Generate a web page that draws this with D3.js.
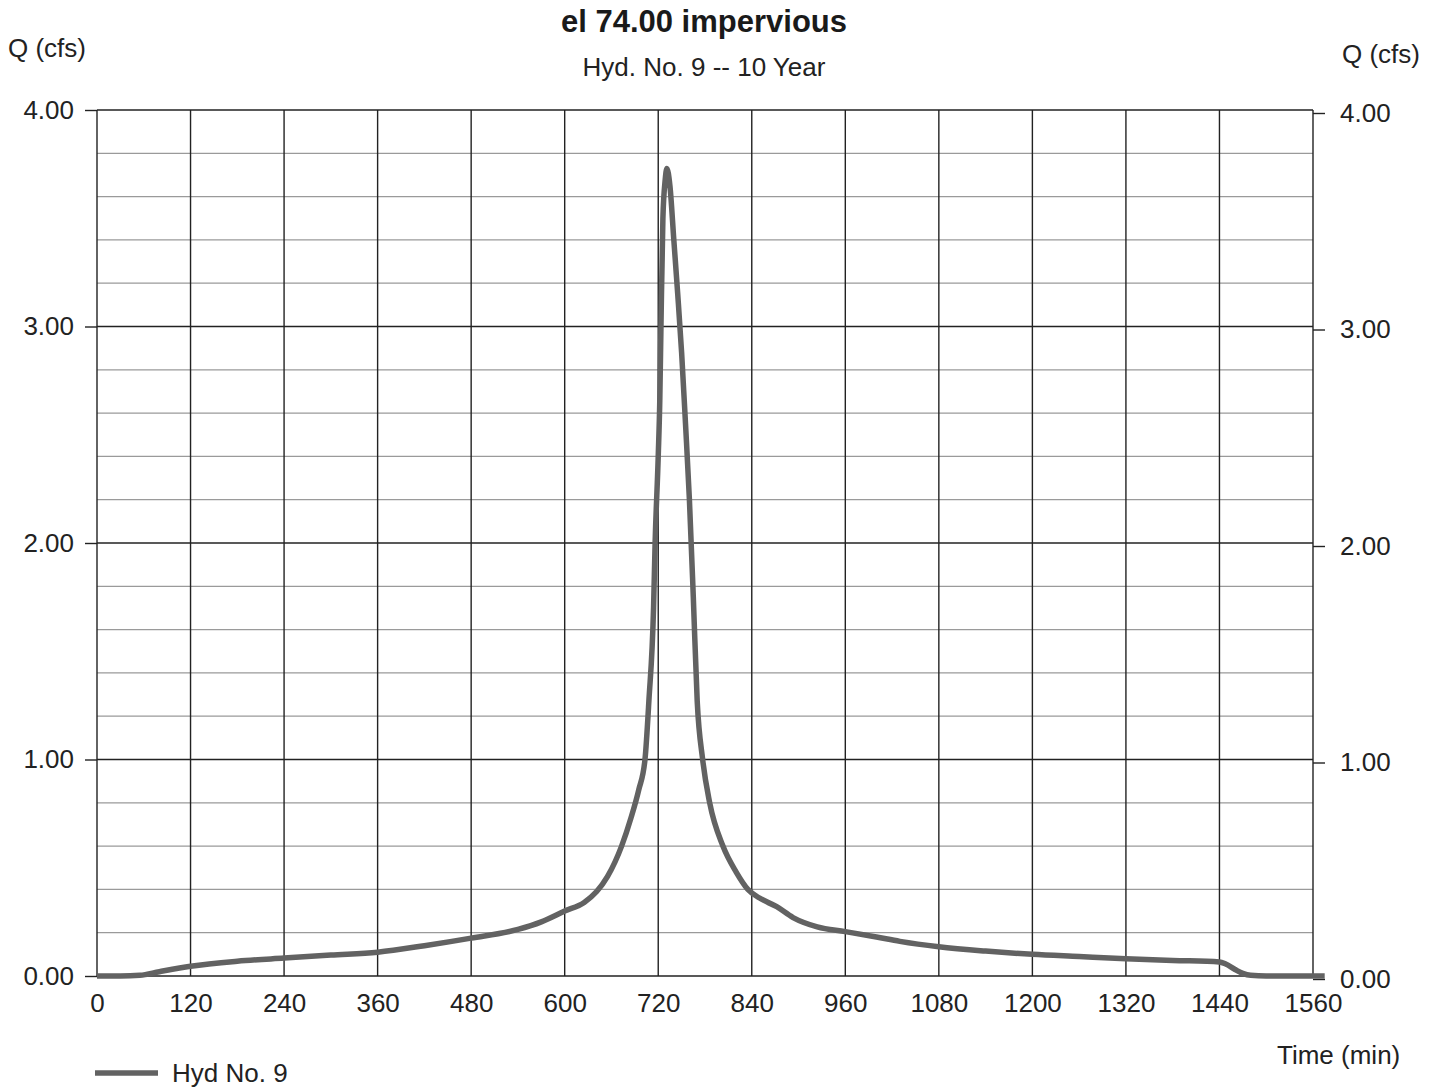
<!DOCTYPE html>
<html>
<head>
<meta charset="utf-8">
<script src="https://cdn.jsdelivr.net/npm/d3@7"></script>
<style>
  body { margin: 0; background: #fff; }
  svg { display: block; font-family: "Liberation Sans", Arial, sans-serif; }
</style>
</head>
<body>
<div id="chart"></div>
<script>
// hydrograph: time (min) and flow Q (cfs)
var times = [0, 30, 55, 80, 120, 180, 240, 300, 360, 420, 480, 540, 570, 600, 625, 641, 655, 673, 685, 695, 703, 708, 714, 716, 720, 722, 723.5, 726, 729, 731, 735, 740, 745, 750, 755, 760, 765, 770, 777, 786, 803, 820, 835, 850, 872, 893, 924, 960, 1000, 1030, 1080, 1140, 1200, 1260, 1320, 1380, 1440, 1448, 1460, 1470, 1480, 1500, 1560, 1575];
var flows = [0, 0, 0.003, 0.02, 0.045, 0.068, 0.083, 0.097, 0.11, 0.14, 0.175, 0.215, 0.25, 0.30, 0.34, 0.39, 0.46, 0.60, 0.73, 0.86, 1.0, 1.27, 1.7, 2.0, 2.4, 2.66, 3.0, 3.5, 3.68, 3.73, 3.65, 3.4, 3.15, 2.88, 2.55, 2.2, 1.75, 1.27, 1.0, 0.8, 0.6, 0.48, 0.40, 0.36, 0.32, 0.27, 0.227, 0.205, 0.18, 0.16, 0.135, 0.115, 0.10, 0.09, 0.08, 0.072, 0.065, 0.055, 0.03, 0.012, 0.003, 0, 0, 0];
var xTicks = [0, 120, 240, 360, 480, 600, 720, 840, 960, 1080, 1200, 1320, 1440, 1560];
var yTicks = [0, 1, 2, 3, 4];
var yMinor = [0.2, 0.4, 0.6, 0.8, 1.2, 1.4, 1.6, 1.8, 2.2, 2.4, 2.6, 2.8, 3.2, 3.4, 3.6, 3.8];

var width = 1440, height = 1087;
var plotL = 97, plotR = 1313, plotT = 110, plotB = 976;
var labelFont = "Liberation Sans, Arial, sans-serif";

var svg = d3.select("#chart").append("svg")
  .attr("width", width)
  .attr("height", height);

var x = d3.scaleLinear().domain([0, 1560]).range([plotL, plotR]);
var y = d3.scaleLinear().domain([0, 4]).range([plotB, plotT]);

// minor horizontal grid
svg.selectAll("line.minor")
  .data(yMinor)
  .enter()
  .append("line")
  .attr("class", "minor")
  .attr("x1", plotL).attr("x2", plotR)
  .attr("y1", function(d) { return y(d); })
  .attr("y2", function(d) { return y(d); })
  .attr("stroke", "#9a9a9a")
  .attr("stroke-width", 1.2);

// vertical grid
svg.selectAll("line.vgrid")
  .data(xTicks)
  .enter()
  .append("line")
  .attr("class", "vgrid")
  .attr("x1", function(d) { return x(d); })
  .attr("x2", function(d) { return x(d); })
  .attr("y1", plotT).attr("y2", plotB)
  .attr("stroke", "#222")
  .attr("stroke-width", 1.4);

// left axis
var yLeft = svg.append("g")
  .attr("transform", "translate(" + plotL + ",0)")
  .call(d3.axisLeft(y).tickValues(yTicks).tickFormat(d3.format(".2f")).tickSize(12).tickPadding(11));
yLeft.select(".domain").remove();
yLeft.selectAll(".tick line").attr("stroke", "#222").attr("stroke-width", 1.4);
yLeft.selectAll(".tick text").attr("font-size", 26).attr("fill", "#222").attr("font-family", labelFont);

// right axis
var yRight = svg.append("g")
  .attr("transform", "translate(" + plotR + ",3)")
  .call(d3.axisRight(y).tickValues(yTicks).tickFormat(d3.format(".2f")).tickSize(12).tickPadding(15));
yRight.select(".domain").remove();
yRight.selectAll(".tick line").attr("stroke", "#222").attr("stroke-width", 1.4);
yRight.selectAll(".tick text").attr("font-size", 26).attr("fill", "#222").attr("font-family", labelFont);

// major horizontal grid
svg.selectAll("line.hgrid")
  .data(yTicks)
  .enter()
  .append("line")
  .attr("class", "hgrid")
  .attr("x1", plotL).attr("x2", plotR)
  .attr("y1", function(d) { return y(d); })
  .attr("y2", function(d) { return y(d); })
  .attr("stroke", "#222")
  .attr("stroke-width", 1.4);

// x axis labels
var xAxis = svg.append("g")
  .attr("transform", "translate(0," + plotB + ")")
  .call(d3.axisBottom(x).tickValues(xTicks).tickFormat(d3.format("d")).tickSize(0).tickPadding(18));
xAxis.select(".domain").remove();
xAxis.selectAll(".tick text").attr("font-size", 26).attr("fill", "#222").attr("font-family", labelFont);

// hydrograph
var line = d3.line()
  .x(function(d, i) { return x(times[i]); })
  .y(function(d) { return y(d); })
  .curve(d3.curveMonotoneX);

svg.append("path")
  .datum(flows)
  .attr("d", line)
  .attr("fill", "none")
  .attr("stroke", "#626262")
  .attr("stroke-width", 5.5)
  .attr("stroke-linejoin", "round");

// titles
svg.append("text")
  .attr("x", 704).attr("y", 32)
  .attr("text-anchor", "middle")
  .attr("font-size", 31).attr("font-weight", "bold").attr("fill", "#1a1a1a")
  .text("el 74.00 impervious");

svg.append("text")
  .attr("x", 704).attr("y", 76)
  .attr("text-anchor", "middle")
  .attr("font-size", 26).attr("fill", "#222")
  .text("Hyd. No. 9 -- 10 Year");

svg.append("text")
  .attr("x", 8).attr("y", 57)
  .attr("font-size", 26).attr("fill", "#222")
  .text("Q (cfs)");

svg.append("text")
  .attr("x", 1342).attr("y", 63)
  .attr("font-size", 26).attr("fill", "#222")
  .text("Q (cfs)");

svg.append("text")
  .attr("x", 1277).attr("y", 1064)
  .attr("font-size", 26).attr("fill", "#222")
  .text("Time (min)");

// legend
svg.append("line")
  .attr("x1", 95).attr("x2", 158)
  .attr("y1", 1073).attr("y2", 1073)
  .attr("stroke", "#626262")
  .attr("stroke-width", 5.5);

svg.append("text")
  .attr("x", 172).attr("y", 1082)
  .attr("font-size", 26).attr("fill", "#222")
  .text("Hyd No. 9");
</script>
</body>
</html>
